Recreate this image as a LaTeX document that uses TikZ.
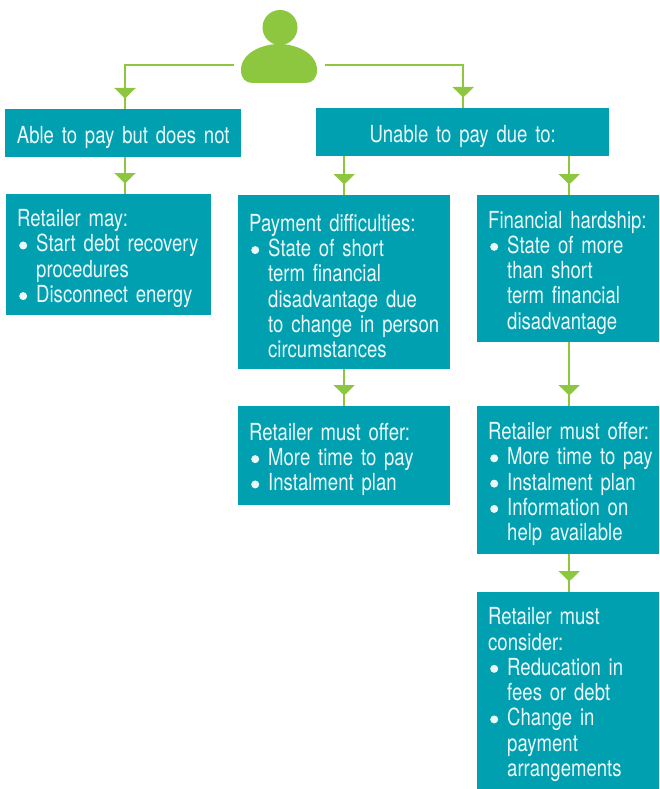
\documentclass[tikz,border=0pt]{standalone}
\usepackage{fontspec}
\setmainfont{TeX Gyre Heros}[FakeStretch=0.79,WordSpace=0.7]
\usetikzlibrary{arrows.meta,decorations.markings}
\definecolor{tealBox}{HTML}{00A0B0}
\definecolor{greenLine}{HTML}{8DC63F}
\newcommand{\itm}[1]{\mbox{\makebox[19pt][l]{\hspace{2pt}\raisebox{2.5pt}{\tikz\fill (0,0) circle (4pt);}}#1}}
\newcommand{\cont}[1]{\mbox{\hspace*{19pt}#1}}
\begin{document}
\begin{tikzpicture}
        [x=1pt,y=-1pt,
        box/.style={anchor=north west,fill=tealBox,text=white!92!tealBox,inner xsep=11pt,inner ysep=0pt,
            align=left,font=\fontsize{23.5}{25.3}\selectfont,
            execute at begin node={\leavevmode\rule{0pt}{25pt}}},
        titleBox/.style={box,align=center,inner xsep=0pt},
        link/.style={draw=greenLine,line width=2.4pt,postaction={decorate},
            decoration={markings,mark=at position -10.5pt with {\arrow[greenLine]{Triangle[length=10.5pt,width=21pt]}}}}]
        \useasboundingbox (0,0) rectangle (659,789);

        \node[titleBox,text width=236pt,minimum height=48pt] (able) at (5,109) {Able to pay but does not};
        \node[titleBox,text width=293pt,minimum height=48pt] (unable) at (316,108) {Unable to pay due to:};

        \node[box,text width=183pt,minimum height=121pt] (may) at (6,194) {Retailer may:\\
            \itm{Start debt recovery}\\ \cont{procedures}\\ \itm{Disconnect energy}};
        \node[box,text width=190pt,minimum height=174pt] (diff) at (238,195) {Payment difficulties:\\
            \itm{State of short}\\ \cont{term financial}\\ \cont{disadvantage due}\\ \cont{to change in person}\\ \cont{circumstances}};
        \node[box,text width=160pt,minimum height=147pt] (hard) at (477,195) {Financial hardship:\\
            \itm{State of more}\\ \cont{than short}\\ \cont{term financial}\\ \cont{disadvantage}};
        \node[box,text width=190pt,minimum height=99pt] (offerA) at (238,406) {Retailer must offer:\\
            \itm{More time to pay}\\ \itm{Instalment plan}};
        \node[box,text width=160pt,minimum height=148pt] (offerB) at (477,406) {\mbox{Retailer must offer:}\\
            \itm{More time to pay}\\ \itm{Instalment plan}\\ \itm{Information on}\\ \cont{help available}};
        \node[box,text width=160pt,minimum height=197pt] (consider) at (477,592) {Retailer must\\ consider:\\
            \itm{Reducation in}\\ \cont{fees or debt}\\ \itm{Change in}\\ \cont{payment}\\ \cont{arrangements}};

        % person
        \fill[greenLine] (241,70) .. controls (241,53) and (262,44) .. (279,44)
            .. controls (296,44) and (317,53) .. (317,70)
            .. controls (317,79) and (312,83) .. (305,83) -- (253,83)
            .. controls (246,83) and (241,79) .. (241,70) -- cycle;
        \node[circle,fill=greenLine,minimum size=35pt,inner sep=0pt] (head) at (280,27.5) {};

        \coordinate (personL) at (234,65);
        \coordinate (personR) at (325,65);
        \coordinate (ableIn) at (125,109);

        \draw[link] (personL) -| (ableIn);
        \draw[link] (personR) -| ([xshift=0.5pt]unable.north);
        \draw[link] (ableIn |- able.south) -- (ableIn |- may.north);
        \draw[link] (unable.south -| diff.north) -- (diff.north);
        \draw[link] ([xshift=1pt]unable.south -| hard.north) -- ([xshift=1pt]hard.north);
        \draw[link] (diff.south) -- (offerA.north);
        \draw[link] ([xshift=1pt]hard.south) -- ([xshift=1pt]offerB.north);
        \draw[link] ([xshift=1pt]offerB.south) -- ([xshift=1pt]consider.north);
    \end{tikzpicture}
\end{document}
